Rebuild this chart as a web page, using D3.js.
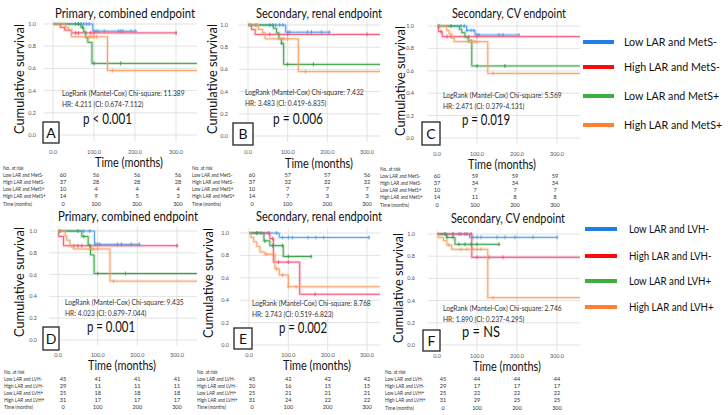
<!DOCTYPE html>
<html>
<head>
<meta charset="utf-8">
<script src="https://cdn.jsdelivr.net/npm/d3@7"></script>
<style>
body { margin: 0; background: #fff; }
text { font-family: Lato, "Open Sans", sans-serif; }
</style>
</head>
<body>
<div id="chart"></div>
<script>

// ---- data ----
var groupsMetS = ["Low LAR and MetS-", "High LAR and MetS-", "Low LAR and MetS+", "High LAR and MetS+"];
var groupsLVH = ["Low LAR and LVH-", "High LAR and LVH-", "Low LAR and LVH+", "High LAR and LVH+"];
var titles = ["Primary, combined endpoint", "Secondary, renal endpoint", "Secondary, CV endpoint",
              "Primary, combined endpoint", "Secondary, renal endpoint", "Secondary, CV endpoint"];
var panelLetters = ["A", "B", "C", "D", "E", "F"];
var chiSquare = ["11.389", "7.432", "5.569", "9.435", "8.768", "2.746"];
var hazardRatios = ["4.211 (CI: 0.674-7.112)", "3.483 (CI: 0.419-6.835)", "2.471 (CI: 0.379-4.131)",
                    "4.023 (CI: 0.879-7.044)", "3.743 (CI: 0.519-6.823)", "1.890 (CI: 0.237-4.295)"];
var pValues = ["p < 0.001", "p = 0.006", "p = 0.019", "p = 0.001", "p = 0.002", "p = NS"];
var xTicks = [0, 100, 200, 300];
var yTicks = [0, 0.2, 0.4, 0.6, 0.8, 1.0];
var riskTimes = [0, 100, 200, 300];

// numbers at risk, one row per group (order: low-, high-, low+, high+)
var riskA = [[60, 56, 56, 56], [37, 28, 28, 28], [10, 4, 4, 4], [14, 9, 5, 3]];
var riskB = [[60, 57, 57, 56], [37, 32, 32, 32], [10, 7, 7, 7], [14, 7, 3, 3]];
var riskC = [[60, 59, 59, 59], [37, 34, 34, 34], [10, 7, 7, 7], [14, 11, 8, 8]];
var riskD = [[45, 41, 41, 41], [29, 11, 11, 11], [25, 18, 18, 18], [31, 17, 17, 17]];
var riskE = [[45, 42, 42, 42], [20, 16, 15, 15], [25, 21, 21, 21], [31, 24, 22, 22]];
var riskF = [[45, 44, 44, 44], [29, 17, 17, 17], [25, 22, 22, 22], [31, 29, 25, 25]];

// Kaplan-Meier steps [month, survival], per group
var survA = [[[0, 1], [97, 0.935]],
             [[0, 1], [18, 0.97], [28, 0.945], [45, 0.92]],
             [[0, 1], [68, 0.97], [75, 0.93], [80, 0.875], [85, 0.835], [95, 0.645]],
             [[0, 1], [30, 0.97], [38, 0.945], [45, 0.885], [133, 0.58]]];
var survB = [[[0, 1], [95, 0.935]],
             [[0, 1], [9, 0.96], [18, 0.915]],
             [[0, 1], [64, 0.97], [72, 0.93], [78, 0.875], [84, 0.835], [90, 0.645]],
             [[0, 1], [26, 0.96], [37, 0.93], [43, 0.875], [127, 0.58]]];
var survC = [[[0, 1], [74, 0.96], [95, 0.92]],
             [[0, 1], [4, 0.95], [13, 0.905]],
             [[0, 1], [56, 0.97], [62, 0.94], [70, 0.9], [78, 0.865], [87, 0.643]],
             [[0, 1], [24, 0.96], [30, 0.93], [37, 0.9], [43, 0.86], [127, 0.577]]];
var survD = [[[0, 1], [92, 0.878]],
             [[0, 1], [2, 0.95], [14, 0.865]],
             [[0, 1], [60, 0.95], [76, 0.87], [82, 0.78], [91, 0.61]],
             [[0, 1], [18, 0.955], [22, 0.915], [30, 0.86], [39, 0.835], [131, 0.54]]];
var survE = [[[0, 1], [77, 0.96]],
             [[0, 1], [53, 0.95], [62, 0.74], [129, 0.453]],
             [[0, 1], [38, 0.93], [53, 0.887], [87, 0.79]],
             [[0, 1], [5, 0.96], [12, 0.92], [20, 0.88], [28, 0.83], [40, 0.81], [66, 0.68], [77, 0.625], [100, 0.52]]];
var survF = [[[0, 1], [81, 0.97]],
             [[0, 1], [87, 0.79]],
             [[0, 1], [24, 0.97], [45, 0.907]],
             [[0, 1], [3, 0.97], [16, 0.94], [25, 0.9], [37, 0.862], [127, 0.426]]];

// last follow-up month per group
var endA = [205, 302, 360, 360];
var endB = [205, 340, 360, 360];
var endC = [203, 360, 360, 360];
var endD = [207, 303, 360, 360];
var endE = [307, 360, 159, 360];
var endF = [303, 360, 157, 360];

// censored observations (months)
var censA = [[55, 62, 68, 75, 82, 88, 100, 105, 110, 125, 160, 165, 170, 190, 200], [55, 62, 92, 100, 300], [62, 72, 100, 165], [30, 88, 92, 96, 100, 106, 145]];
var censB = [[55, 62, 70, 80, 88, 100, 105, 150, 160, 185, 205], [55, 100, 300], [5, 20, 85, 100, 165], [25, 85, 90, 100, 145]];
var censC = [[60, 68, 75, 85, 92, 100, 105, 155, 165, 205], [10, 25, 35, 80, 100], [5, 35, 85, 100, 170], [40, 80, 85, 90, 95, 100, 140]];
var censD = [[65, 80, 95, 100, 105, 150, 160, 185, 205], [40, 50, 60, 80, 300], [5, 50, 65, 100, 170], [35, 80, 85, 90, 100, 140]];
var censE = [[20, 30, 50, 70, 85, 100, 110, 150, 170, 190, 305], [50, 60, 75, 100, 168], [20, 40, 60, 85, 100, 158], [45, 70, 85, 100, 120]];
var censF = [[20, 40, 60, 75, 90, 100, 110, 150, 170, 195, 240, 300], [20, 40, 55, 70, 85, 100, 130, 165], [25, 40, 55, 70, 85, 100, 155], [30, 60, 75, 90, 100, 110, 140]];

var survAll = [survA, survB, survC, survD, survE, survF];
var endAll = [endA, endB, endC, endD, endE, endF];
var censAll = [censA, censB, censC, censD, censE, censF];
var riskAll = [riskA, riskB, riskC, riskD, riskE, riskF];

var curveColors = ["#5aa2ea", "#f0587c", "#3ea44c", "#f7a066"];
var legendColors = ["#1f7fe6", "#ff0a0a", "#3daf3d", "#ff8030"];

// ---- layout of each panel (pixels) ----
var layout = [
    {x0: 53, x300: 176, xEnd: 197, y1: 24, y0: 135, xtY: 154, titleX: 125, titleY: 18, titleW: 140, ylabX: 24, ylabY: 79, yTickX: 36,
     box: [43, 122, 16, 21], statX: 62, statY: 96, pX: 83, pY: 124, pW: 49, timeX: 129, timeY: 167, tabX: 3, tabY: 170, col0: 63, colOff: 2},
    {x0: 248, x300: 367, xEnd: 380, y1: 25, y0: 136, xtY: 153.5, titleX: 319, titleY: 18, titleW: 126, ylabX: 217, ylabY: 79, yTickX: 228,
     box: [233, 123, 20, 22], statX: 245, statY: 95, pX: 273, pY: 124, pW: 50, timeX: 319, timeY: 167.5, tabX: 192, tabY: 170, col0: 252, colOff: 0},
    {x0: 437, x300: 557, xEnd: 580, y1: 26, y0: 138, xtY: 156, titleX: 509, titleY: 18, titleW: 114, ylabX: 405, ylabY: 81, yTickX: 414,
     box: [422, 122, 18, 23], statX: 443, statY: 98, pX: 462, pY: 125, pW: 48, timeX: 502, timeY: 169, tabX: 380, tabY: 171, col0: 437, colOff: -2},
    {x0: 58, x300: 177, xEnd: 197, y1: 231, y0: 340, xtY: 357, titleX: 128, titleY: 221, titleW: 140, ylabX: 24, ylabY: 282, yTickX: 37,
     box: [43, 327, 16, 23], statX: 65, statY: 305, pX: 87, pY: 332, pW: 48, timeX: 122, timeY: 370, tabX: 4, tabY: 373.5, col0: 63, colOff: 0},
    {x0: 249, x300: 367, xEnd: 380, y1: 233, y0: 345, xtY: 357, titleX: 319, titleY: 221, titleW: 126, ylabX: 213, ylabY: 283, yTickX: 229,
     box: [234, 328, 18, 21], statX: 252, statY: 306, pX: 279, pY: 333, pW: 48, timeX: 317, timeY: 370, tabX: 197, tabY: 373.5, col0: 252, colOff: 0},
    {x0: 437, x300: 557, xEnd: 580, y1: 234, y0: 345, xtY: 358, titleX: 508, titleY: 223, titleW: 114, ylabX: 403, ylabY: 288, yTickX: 415,
     box: [423, 330, 17, 21], statX: 443, statY: 311, pX: 462, pY: 337, pW: 38, timeX: 507, timeY: 370.5, tabX: 385, tabY: 374, col0: 443, colOff: 0}
];

var svg = d3.select("#chart").append("svg")
    .attr("width", 728)
    .attr("height", 415);

// value of a step function at time t
function survAt(steps, t) {
    var s = 1;
    steps.forEach(function(d) { if (d[0] <= t) s = d[1]; });
    return s;
}

// squeeze a text horizontally (the source font is narrower than Lato)
function condense(sel, f) {
    sel.each(function() {
        var w = this.getComputedTextLength();
        d3.select(this).attr("textLength", w * f).attr("lengthAdjust", "spacingAndGlyphs");
    });
}

layout.forEach(function(p, i) {
    var g = svg.append("g").attr("class", "panel");
    var groups = i < 3 ? groupsMetS : groupsLVH;

    var x = d3.scaleLinear().domain([0, 300]).range([p.x0, p.x300]);
    var y = d3.scaleLinear().domain([0, 1]).range([p.y0, p.y1]);

    // grid
    g.selectAll(".hgrid").data(yTicks).enter().append("line")
        .attr("x1", p.x0 - 9).attr("x2", p.xEnd)
        .attr("y1", d => y(d)).attr("y2", d => y(d))
        .attr("stroke", "#dcdcdc").attr("stroke-width", 0.8);
    g.selectAll(".vgrid").data(xTicks).enter().append("line")
        .attr("x1", d => x(d)).attr("x2", d => x(d))
        .attr("y1", p.y1 - 5).attr("y2", p.y0 + 6)
        .attr("stroke", "#dcdcdc").attr("stroke-width", 0.8);

    // tick labels
    g.selectAll(".ytl").data(yTicks).enter().append("text")
        .attr("x", p.yTickX).attr("y", d => y(d) + 2)
        .attr("text-anchor", "end")
        .attr("font-size", 5.5).attr("fill", "#555")
        .text(d => d3.format(".1f")(d));
    g.selectAll(".xtl").data(xTicks).enter().append("text")
        .attr("x", d => x(d)).attr("y", p.xtY)
        .attr("text-anchor", "middle")
        .attr("font-size", 5.5).attr("fill", "#555")
        .text(d => d3.format(".1f")(d));

    // curves
    var clipId = "clip" + i;
    svg.append("clipPath").attr("id", clipId).append("rect")
        .attr("x", p.x0 - 10).attr("y", p.y1 - 10)
        .attr("width", p.xEnd - p.x0 + 10).attr("height", p.y0 - p.y1 + 20);

    var line = d3.line()
        .x(d => x(d[0]))
        .y(d => y(d[1]))
        .curve(d3.curveStepAfter);

    var curves = g.append("g").attr("clip-path", "url(#" + clipId + ")");
    survAll[i].forEach(function(steps, k) {
        var pts = steps.concat([[endAll[i][k], steps[steps.length - 1][1]]]);
        curves.append("path")
            .attr("d", line(pts))
            .attr("fill", "none")
            .attr("stroke", curveColors[k])
            .attr("stroke-opacity", 0.22)
            .attr("stroke-width", 3.2);
        curves.append("path")
            .attr("d", line(pts))
            .attr("fill", "none")
            .attr("stroke", curveColors[k])
            .attr("stroke-width", 1);
        curves.selectAll(null).data(censAll[i][k]).enter().append("path")
            .attr("d", function(t) {
                var cx = x(t), cy = y(survAt(steps, t));
                return "M" + cx + "," + (cy - 2) + "V" + (cy + 2) + "M" + (cx - 1.2) + "," + cy + "H" + (cx + 1.2);
            })
            .attr("stroke", curveColors[k])
            .attr("stroke-width", 0.9);
    });

    // title
    g.append("text")
        .attr("x", p.titleX).attr("y", p.titleY)
        .attr("text-anchor", "middle")
        .attr("font-size", 14).attr("fill", "#111")
        .attr("textLength", p.titleW).attr("lengthAdjust", "spacingAndGlyphs")
        .text(titles[i]);

    // y axis label
    g.append("text")
        .attr("transform", "translate(" + p.ylabX + "," + p.ylabY + ") rotate(-90)")
        .attr("text-anchor", "middle")
        .attr("font-size", 14).attr("fill", "#111")
        .attr("textLength", 110).attr("lengthAdjust", "spacingAndGlyphs")
        .text("Cumulative survival");

    // x axis label
    g.append("text")
        .attr("x", p.timeX).attr("y", p.timeY)
        .attr("text-anchor", "middle")
        .attr("font-size", 13).attr("fill", "#111")
        .attr("textLength", 68).attr("lengthAdjust", "spacingAndGlyphs")
        .text("Time (months)");

    // statistics
    g.append("text")
        .attr("x", p.statX).attr("y", p.statY)
        .attr("font-size", 6.7).attr("fill", "#333")
        .text("LogRank (Mantel-Cox) Chi-square: " + chiSquare[i]);
    g.append("text")
        .attr("x", p.statX).attr("y", p.statY + 10.5)
        .attr("font-size", 6.7).attr("fill", "#333")
        .text("HR: " + hazardRatios[i]);
    g.append("text")
        .attr("x", p.pX).attr("y", p.pY)
        .attr("font-size", 15).attr("fill", "#111")
        .attr("textLength", p.pW).attr("lengthAdjust", "spacingAndGlyphs")
        .text(pValues[i]);

    // panel letter box
    g.append("rect")
        .attr("x", p.box[0]).attr("y", p.box[1])
        .attr("width", p.box[2]).attr("height", p.box[3])
        .attr("fill", "#fff").attr("stroke", "#222").attr("stroke-width", 1.3);
    g.append("text")
        .attr("x", p.box[0] + p.box[2] / 2).attr("y", p.box[1] + p.box[3] / 2 + 5)
        .attr("text-anchor", "middle")
        .attr("font-size", 14).attr("fill", "#111")
        .text(panelLetters[i]);

    // risk table
    var rowStep = 7.1;
    var tab = g.append("g").attr("font-size", 5.4).attr("fill", "#333");
    var colX = function(j) { return j === 0 ? p.col0 : x(riskTimes[j]) + p.colOff; };
    var rowLabels = ["No. at risk"].concat(groups).concat(["Time  (months)"]);
    var labelSel = tab.selectAll(".rlab").data(rowLabels).enter().append("text")
        .attr("x", p.tabX).attr("y", (d, r) => p.tabY + rowStep * r)
        .text(d => d);
    condense(labelSel, 0.86);
    riskAll[i].concat([riskTimes]).forEach(function(row, r) {
        var ry = p.tabY + rowStep * (r + 1);
        tab.selectAll(null).data(row).enter().append("text")
            .attr("x", (d, j) => colX(j)).attr("y", ry)
            .attr("text-anchor", "middle")
            .attr("font-size", 5.6)
            .text(d => d);
    });
});

// legends
function drawLegend(labels, ys, x1, x2, tx, firstWidth) {
    var lg = svg.append("g").attr("class", "legend");
    lg.selectAll("line").data(labels).enter().append("line")
        .attr("x1", x1).attr("x2", x2)
        .attr("y1", (d, k) => ys[k]).attr("y2", (d, k) => ys[k])
        .attr("stroke", (d, k) => legendColors[k])
        .attr("stroke-width", 4);
    var texts = lg.selectAll("text").data(labels).enter().append("text")
        .attr("x", tx).attr("y", (d, k) => ys[k] + 4.2)
        .attr("font-size", 11).attr("fill", "#111")
        .text(d => d);
    var f = firstWidth / texts.node().getComputedTextLength();
    condense(texts, f);
}
drawLegend(groupsMetS, [42, 67, 96, 125], 583, 614, 624, 93);
drawLegend(groupsLVH, [229, 256, 281, 307], 585, 617, 629, 80);

</script>
</body>
</html>
